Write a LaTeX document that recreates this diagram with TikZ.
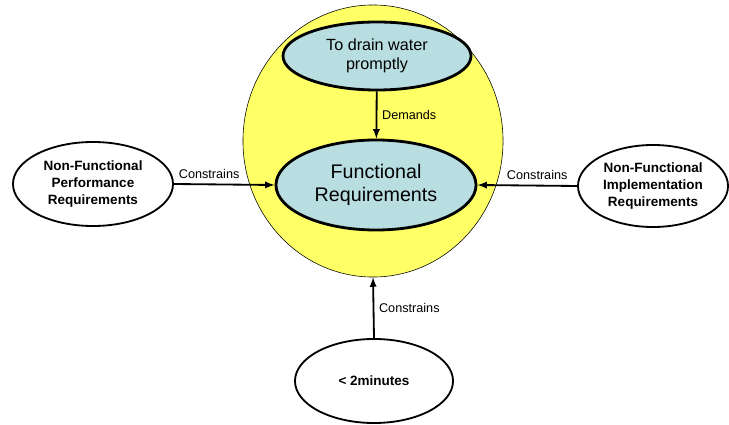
\documentclass[tikz,border=0pt]{standalone}
\usepackage{fontspec}
\setmainfont{Liberation Sans}
\usetikzlibrary{arrows,shapes.geometric}
\definecolor{zoneyellow}{RGB}{255,255,102}
\definecolor{goalblue}{RGB}{185,222,226}

\begin{document}
\begin{tikzpicture}[x=0.025cm,y=-0.025cm,
  oval/.style={ellipse,draw,line width=1.3pt,align=center,inner sep=0pt},
  goal/.style={oval,fill=goalblue,line width=2pt},
  nfr/.style={oval,font=\bfseries\fontsize{9.6}{11.8}\selectfont},
  link/.style={-latex,line width=1.3pt},
  lbl/.style={font=\fontsize{9}{11}\selectfont}]
\useasboundingbox (0,0) rectangle (729,425);
\node[ellipse,draw,fill=zoneyellow,line width=0.4pt,minimum width=6.5cm,minimum height=6.8cm] (zone) at (373,141) {};
\node[goal,minimum width=4.7cm,minimum height=1.7cm,font=\fontsize{11.5}{13.5}\selectfont] (drain) at (377,56) {To drain water\\promptly};
\node[goal,minimum width=5cm,minimum height=2.25cm,font=\fontsize{14}{16.5}\selectfont] (func) at (376,185) {Functional\\Requirements};
\node[nfr,minimum width=4cm,minimum height=2.1cm] (perf) at (93,184) {Non-Functional\\Performance\\Requirements};
\node[nfr,minimum width=3.75cm,minimum height=2.05cm] (impl) at (653,186) {Non-Functional\\Implementation\\Requirements};
\node[nfr,minimum width=3.95cm,minimum height=2.1cm] (time) at (374,381) {< 2minutes};
\draw[link] (drain) -- node[right,lbl] {Demands} (func);
\draw[link] (perf.east) -- node[pos=0.35,above,lbl] {Constrains} (func.west);
\draw[link] (impl.west) -- node[pos=0.4,above,lbl] {Constrains} (func.east);
\draw[link] (time.north) -- node[right,lbl] {Constrains} (zone.south);
\end{tikzpicture}
\end{document}
